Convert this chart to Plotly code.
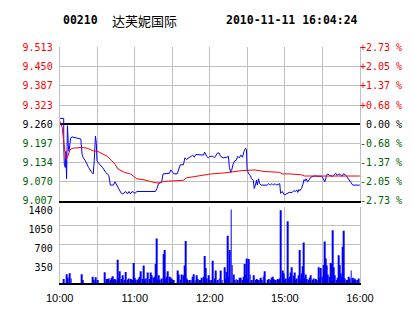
import plotly.graph_objects as go

# ---------------- data ----------------
stock_code = "00210"
stock_name = "达芙妮国际"
timestamp = "2010-11-11 16:04:24"
prev_close = 9.260

# minutes since 10:00 on a compressed trading axis (10:00-12:30, 14:30-16:00)
time_tick_minutes = [0, 30, 60, 90, 120, 150, 180, 210, 240]
time_tick_labels = ["10:00", "", "11:00", "", "12:00", "", "15:00", "", "16:00"]

price_ticks = [9.007, 9.070, 9.134, 9.197, 9.260, 9.323, 9.387, 9.450, 9.513]
price_tick_labels = ["9.007", "9.070", "9.134", "9.197", "9.260", "9.323", "9.387", "9.450", "9.513"]
pct_tick_labels = ["-2.73 %", "-2.05 %", "-1.37 %", "-0.68 %", "\u00a00.00 %",
                   "+0.68 %", "+1.37 %", "+2.05 %", "+2.73 %"]

vol_ticks = [0, 350, 700, 1050, 1400]
vol_tick_labels = ["", "350", "700", "1050", "1400"]

price_minutes = [
    0, 3.2, 3.3, 3.7, 4.5, 5.0, 5.5, 6.2, 7.0, 7.5,
    8.2, 8.9, 9.9, 13.2, 15.7, 16.9, 17.9, 18.9, 20.6, 23.1,
    25.6, 26.8, 27.6, 28.1, 28.6, 29.3, 29.8, 31.8, 34.3, 36.8,
    39.3, 40.5, 43.0, 44.2, 45.5, 46.7, 49.2, 50.4, 52.9, 54.2,
    55.4, 56.6, 57.9, 60.4, 61.6, 76.5, 77.8, 79.0, 81.5, 82.7,
    87.7, 88.9, 90.2, 91.4, 93.9, 95.2, 96.4, 98.9, 99.4, 100.1,
    101.4, 103.9, 105.1, 106.3, 107.6, 108.8, 115.0, 115.8, 117.5, 118.8,
    120.0, 122.5, 123.7, 126.2, 127.4, 128.7, 130.7, 133.7, 134.9, 135.7,
    136.7, 137.4, 138.6, 139.9, 141.1, 142.4, 143.6, 144.9, 146.1, 147.3,
    148.6, 149.3, 149.8, 151.0, 152.3, 153.5, 154.8, 155.5, 156.5, 157.3,
    158.0, 159.0, 159.8, 161.0, 165.9, 167.2, 168.4, 169.7, 170.9, 172.2,
    173.4, 175.9, 176.6, 177.9, 179.6, 180.9, 182.1, 183.4, 185.9, 187.1,
    188.3, 189.6, 190.3, 191.3, 192.0, 193.3, 194.5, 195.3, 196.3, 197.0,
    198.3, 199.5, 200.7, 203.2, 208.2, 209.4, 210.7, 211.9, 212.7, 213.2,
    214.4, 215.7, 218.1, 219.4, 220.6, 221.9, 223.1, 224.3, 225.6, 226.8,
    228.1, 229.3, 230.6, 231.8, 233.0, 234.3, 240,
]
price_values = [
    9.279, 9.279, 9.181, 9.128, 9.117, 9.170, 9.080, 9.255, 9.181, 9.170,
    9.197, 9.215, 9.218, 9.215, 9.213, 9.211, 9.160, 9.149, 9.139, 9.117,
    9.101, 9.096, 9.139, 9.186, 9.221, 9.197, 9.139, 9.128, 9.117, 9.101,
    9.091, 9.059, 9.059, 9.070, 9.059, 9.048, 9.032, 9.030, 9.038, 9.030,
    9.038, 9.030, 9.038, 9.032, 9.038, 9.038, 9.048, 9.064, 9.070, 9.096,
    9.098, 9.109, 9.101, 9.096, 9.096, 9.112, 9.126, 9.126, 9.139, 9.149,
    9.144, 9.149, 9.154, 9.158, 9.151, 9.160, 9.158, 9.168, 9.154, 9.149,
    9.154, 9.154, 9.149, 9.165, 9.165, 9.154, 9.149, 9.151, 9.154, 9.117,
    9.101, 9.107, 9.128, 9.139, 9.141, 9.154, 9.149, 9.158, 9.151, 9.170,
    9.181, 9.176, 9.112, 9.096, 9.091, 9.080, 9.075, 9.048, 9.059, 9.075,
    9.059, 9.080, 9.064, 9.059, 9.059, 9.064, 9.059, 9.064, 9.059, 9.064,
    9.059, 9.064, 9.032, 9.038, 9.027, 9.029, 9.032, 9.035, 9.035, 9.041,
    9.038, 9.043, 9.035, 9.045, 9.041, 9.048, 9.062, 9.077, 9.073, 9.080,
    9.070, 9.080, 9.085, 9.089, 9.089, 9.088, 9.080, 9.070, 9.080, 9.091,
    9.096, 9.091, 9.088, 9.094, 9.098, 9.091, 9.096, 9.094, 9.088, 9.096,
    9.094, 9.088, 9.080, 9.075, 9.064, 9.059, 9.059,
]

avg_minutes = [
    0, 2.0, 3.2, 4.5, 5.2, 6.5, 8.2, 10.7, 14.4, 18.1,
    21.9, 26.8, 30.6, 34.3, 38.0, 41.7, 44.2, 46.7, 51.7, 56.6,
    60.4, 61.6, 66.6, 71.6, 76.5, 80.2, 82.7, 86.5, 98.9, 101.4,
    108.8, 116.3, 121.2, 131.2, 141.1, 146.1, 156.0, 163.5, 175.9, 177.9,
    183.4, 187.1, 193.3, 195.8, 240,
]
avg_values = [
    9.271, 9.250, 9.202, 9.160, 9.144, 9.154, 9.176, 9.181, 9.183, 9.183,
    9.181, 9.172, 9.170, 9.162, 9.154, 9.139, 9.128, 9.112, 9.101, 9.096,
    9.085, 9.080, 9.077, 9.072, 9.067, 9.066, 9.071, 9.072, 9.075, 9.083,
    9.088, 9.094, 9.096, 9.099, 9.104, 9.107, 9.109, 9.104, 9.101, 9.096,
    9.096, 9.094, 9.093, 9.089, 9.089,
]

vol_minutes = [
    3.2, 5.7, 6.5, 8.2, 9.2, 17.4, 18.1, 26.6, 27.3, 28.6,
    30.1, 36.0, 37.5, 38.5, 39.3, 40.5, 41.2, 42.0, 43.5, 44.2,
    45.0, 46.5, 47.2, 48.0, 49.2, 50.2, 51.7, 52.9, 54.2, 55.4,
    56.4, 57.4, 58.4, 59.1, 59.9, 60.9, 62.1, 62.9, 64.1, 65.1,
    66.1, 67.3, 68.1, 69.1, 70.3, 71.8, 72.8, 73.5, 74.8, 76.0,
    77.0, 77.8, 78.5, 79.3, 80.2, 81.5, 83.2, 84.0, 84.7, 85.7,
    86.5, 87.7, 88.7, 89.7, 90.7, 91.4, 94.4, 95.2, 96.4, 97.6,
    98.9, 99.9, 100.6, 101.6, 102.6, 103.9, 105.1, 106.3, 107.1, 108.3,
    109.3, 110.3, 111.8, 112.5, 113.8, 115.0, 115.8, 116.5, 117.5, 118.8,
    120.0, 121.2, 122.5, 123.7, 125.0, 126.2, 127.5, 128.7, 129.9, 131.7,
    132.7, 133.7, 134.4, 135.2, 136.2, 137.1, 137.9, 139.1, 139.9, 141.1,
    142.4, 143.6, 144.8, 146.1, 146.8, 148.1, 148.8, 149.6, 150.3, 151.1,
    152.3, 153.5, 155.3, 156.8, 157.8, 158.5, 159.3, 160.3, 161.0, 161.7,
    162.7, 163.5, 164.2, 166.0, 167.2, 168.4, 169.2, 170.2, 170.9, 172.2,
    172.9, 173.9, 175.2, 175.9, 176.9, 177.9, 178.9, 180.1, 180.9, 181.9,
    182.9, 183.8, 184.8, 185.8, 186.8, 187.8, 188.8, 189.8, 190.8, 191.8,
    192.5, 193.3, 194.0, 194.8, 195.8, 196.8, 197.8, 199.0, 200.0, 200.7,
    202.0, 203.2, 204.5, 205.7, 206.7, 207.7, 208.9, 210.2, 211.2, 211.9,
    212.7, 213.7, 214.4, 215.6, 216.9, 217.6, 218.4, 219.1, 220.1, 221.1,
    221.9, 223.1, 223.8, 224.8, 225.6, 226.6, 227.3, 228.1, 229.3, 230.1,
    231.0, 232.0, 233.0, 234.0, 235.0, 236.0, 236.8, 238.0, 239.0,
]
vol_values = [
    71, 160, 95, 177, 83, 160, 53, 112, 53, 106,
    53, 195, 71, 71, 83, 59, 95, 124, 59, 71,
    59, 425, 95, 213, 71, 142, 59, 201, 59, 83,
    71, 59, 53, 366, 95, 59, 59, 83, 112, 213,
    71, 319, 59, 83, 189, 71, 189, 142, 95, 112,
    349, 815, 59, 142, 59, 83, 532, 603, 71, 112,
    213, 112, 95, 71, 53, 53, 230, 154, 59, 154,
    142, 319, 768, 83, 53, 53, 53, 112, 160, 53,
    142, 71, 53, 53, 95, 112, 496, 272, 83, 142,
    53, 53, 408, 83, 230, 53, 83, 230, 53, 289,
    83, 201, 868, 112, 603, 1347, 331, 154, 53, 71,
    53, 95, 95, 53, 112, 349, 154, 449, 83, 437,
    154, 53, 142, 53, 71, 53, 53, 71, 95, 53,
    112, 142, 213, 53, 71, 53, 95, 112, 71, 53,
    53, 71, 53, 83, 1335, 230, 171, 53, 83, 1134,
    71, 112, 189, 289, 130, 189, 53, 83, 142, 603,
    71, 171, 307, 744, 95, 154, 71, 53, 95, 142,
    53, 83, 71, 53, 289, 95, 272, 112, 331, 762,
    449, 319, 154, 112, 366, 349, 969, 289, 142, 53,
    95, 508, 331, 171, 112, 662, 957, 83, 53, 53,
    112, 83, 230, 95, 53, 83, 53, 53, 83,
]

assert len(price_minutes) == len(price_values)
assert len(avg_minutes) == len(avg_values)
assert len(vol_minutes) == len(vol_values)

# ---------------- style ----------------
W, H = 414, 314
PLOT_L, PLOT_R = 49, 371
PRICE_T, PRICE_B = 44, 203
VOL_T, VOL_B = 209, 288
GRID = "#C0C0C0"
UP = "#FF0000"
DOWN = "#006000"
BLUE = "#0000FF"
MONO = "DejaVu Sans Mono"


def pct(p):
    return (p - prev_close) / prev_close * 100.0


def colored(labels, ticks):
    out = []
    for lab, t in zip(labels, ticks):
        if abs(t - prev_close) < 1e-9:
            c = "#000000"
        elif t > prev_close:
            c = UP
        else:
            c = DOWN
        out.append(f'<span style="color:{c}">{lab}</span>')
    return out


xdom = [PLOT_L / W, PLOT_R / W]
price_dom = [1 - PRICE_B / H, 1 - PRICE_T / H]
vol_dom = [1 - VOL_B / H, 1 - VOL_T / H]
prange = [price_ticks[0], price_ticks[-1]]
pct_range = [pct(v) for v in prange]
pct_ticks = [pct(v) for v in price_ticks]

fig = go.Figure()
fig.add_trace(go.Bar(x=vol_minutes, y=vol_values, width=0.75,
                     marker=dict(color=BLUE, line=dict(width=0)),
                     xaxis="x2", yaxis="y3", hoverinfo="skip"))
# percentage view of the average line (invisible) so the % axis renders
fig.add_trace(go.Scatter(x=avg_minutes, y=[pct(v) for v in avg_values], mode="lines",
                         line=dict(width=0), opacity=0, xaxis="x", yaxis="y2",
                         hoverinfo="skip"))
fig.add_trace(go.Scatter(x=price_minutes, y=price_values, mode="lines",
                         line=dict(color=BLUE, width=1), xaxis="x", yaxis="y"))
fig.add_trace(go.Scatter(x=avg_minutes, y=avg_values, mode="lines",
                         line=dict(color=UP, width=1), xaxis="x", yaxis="y"))

fig.update_layout(
    width=W, height=H, margin=dict(l=0, r=0, t=0, b=0),
    paper_bgcolor="white", plot_bgcolor="white", showlegend=False,
    xaxis=dict(domain=xdom, range=[0, 240], anchor="y", tickvals=time_tick_minutes,
               showticklabels=False, ticks="", showgrid=True, gridcolor=GRID, gridwidth=1,
               zeroline=False, showline=True, linecolor="black", linewidth=1.5),
    yaxis=dict(domain=price_dom, range=prange, anchor="x", tickvals=price_ticks,
               ticktext=colored(price_tick_labels, price_ticks),
               tickfont=dict(family=MONO, size=10), ticks="", showgrid=True,
               gridcolor=GRID, gridwidth=1, zeroline=False, showline=True,
               linecolor=GRID, linewidth=1, mirror=True, ticklabelstandoff=4),
    yaxis2=dict(overlaying="y", side="right", anchor="x", range=pct_range,
                tickvals=pct_ticks, ticktext=colored(pct_tick_labels, price_ticks),
                tickfont=dict(family=MONO, size=10), ticks="", showgrid=False,
                zeroline=True, zerolinecolor="black", zerolinewidth=1.5,
                showline=False, ticklabelstandoff=-1, ticklabeloverflow="allow"),
    xaxis2=dict(domain=xdom, range=[0, 240], anchor="y3", tickvals=time_tick_minutes,
                ticktext=time_tick_labels, tickfont=dict(family="Liberation Sans", size=11, color="black"),
                ticks="", showgrid=True, gridcolor=GRID, gridwidth=1, zeroline=False,
                showline=True, linecolor="black", linewidth=1.5, ticklabelstandoff=4,
                ticklabeloverflow="allow"),
    yaxis3=dict(domain=vol_dom, range=[vol_ticks[0], vol_ticks[-1]], anchor="x2",
                tickvals=vol_ticks, ticktext=vol_tick_labels,
                tickfont=dict(family=MONO, size=10, color="black"), ticks="",
                showgrid=True, gridcolor=GRID, gridwidth=1, zeroline=False,
                showline=True, linecolor=GRID, linewidth=1, mirror=True,
                ticklabelstandoff=4, ticklabelshift=4),
    annotations=[
        dict(text=f"<b>{stock_code}</b>", xref="paper", yref="paper", x=50 / W, y=1 - 16 / H,
             xanchor="left", yanchor="middle", showarrow=False,
             font=dict(family=MONO, size=11.5, color="black")),
        dict(text=stock_name, xref="paper", yref="paper", x=103 / W, y=1 - 16 / H,
             xanchor="left", yanchor="middle", showarrow=False,
             font=dict(family="Noto Sans CJK SC", size=13, color="black")),
        dict(text=f"<b>{timestamp}</b>", xref="paper", yref="paper", x=371 / W, y=1 - 16 / H,
             xanchor="right", yanchor="middle", showarrow=False,
             font=dict(family=MONO, size=11.5, color="black")),
    ],
)

fig.write_html("out.html")
